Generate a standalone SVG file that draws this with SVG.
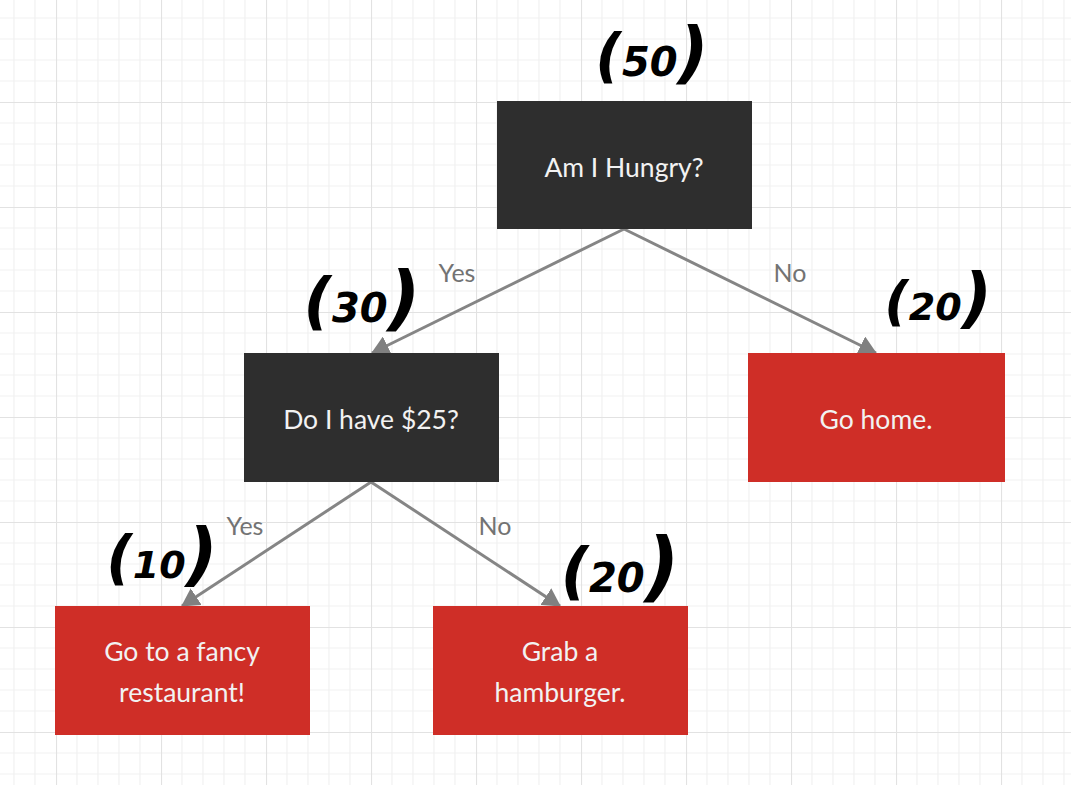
<svg xmlns="http://www.w3.org/2000/svg" width="1071" height="785" viewBox="0 0 1071 785">
<defs>
<pattern id="grid" x="56" y="102" width="105" height="105" patternUnits="userSpaceOnUse">
<path d="M21 0V105M42 0V105M63 0V105M84 0V105M0 21H105M0 42H105M0 63H105M0 84H105" stroke="#f1f1f1" stroke-width="1.2" fill="none"/>
<path d="M0 0V105M0 0H105" stroke="#e2e2e2" stroke-width="2.2" fill="none"/>
</pattern>
<marker id="arr" viewBox="0 0 18 20" refX="17" refY="10" markerWidth="18" markerHeight="20" markerUnits="userSpaceOnUse" orient="auto">
<path d="M0 0L18 10L0 20Z" fill="#808080"/>
</marker>
<style>
.q{fill:#2e2e2e}
.a{fill:#cf2e27}
.t{font-family:Lato,"Liberation Sans",sans-serif;font-size:26.5px;fill:#f2f2f2;text-anchor:middle}
.l{font-family:Lato,"Liberation Sans",sans-serif;font-size:25px;fill:#737373;text-anchor:middle}
.h{font-family:"DejaVu Sans",sans-serif;font-weight:bold;font-style:italic;fill:#000;text-anchor:middle}
.e{stroke:#858585;stroke-width:3;fill:none;marker-end:url(#arr)}
</style>
</defs>
<rect width="1071" height="785" fill="#fff"/>
<rect width="1071" height="785" fill="url(#grid)"/>
<g id="connectors">
<path class="e" d="M624 229L372 353"/>
<path class="e" d="M624 229L876 353"/>
<path class="e" d="M371 482L182 606"/>
<path class="e" d="M371 482L560 606"/>
<text class="l" x="457" y="282">Yes</text>
<text class="l" x="790" y="282">No</text>
<text class="l" x="245" y="535">Yes</text>
<text class="l" x="495" y="535">No</text>
</g>
<g id="n-hungry">
<rect class="q" x="497" y="101" width="255" height="128"/>
<text class="t" x="624" y="177">Am I Hungry?</text>
</g>
<g id="n-money">
<rect class="q" x="244" y="353" width="255" height="129"/>
<text class="t" x="371" y="429">Do I have $25?</text>
</g>
<g id="n-home">
<rect class="a" x="748" y="353" width="257" height="129"/>
<text class="t" x="876" y="429">Go home.</text>
</g>
<g id="n-fancy">
<rect class="a" x="55" y="606" width="255" height="129"/>
<text class="t" x="182" y="661">Go to a fancy</text>
<text class="t" x="182" y="702">restaurant!</text>
</g>
<g id="n-burger">
<rect class="a" x="433" y="606" width="255" height="129"/>
<text class="t" x="560" y="661">Grab a</text>
<text class="t" x="560" y="702">hamburger.</text>
</g>
<g id="annotations">
<text class="h" x="652" y="76" font-size="40"><tspan font-size="58">(</tspan>50<tspan font-size="68">)</tspan></text>
<text class="h" x="362" y="322" font-size="40"><tspan font-size="62">(</tspan>30<tspan font-size="72">)</tspan></text>
<text class="h" x="938" y="320" font-size="38"><tspan font-size="54">(</tspan>20<tspan font-size="66">)</tspan></text>
<text class="h" x="162" y="578" font-size="38"><tspan font-size="58">(</tspan>10<tspan font-size="70">)</tspan></text>
<text class="h" x="620" y="592" font-size="40"><tspan font-size="62">(</tspan>20<tspan font-size="76">)</tspan></text>
</g>
</svg>
